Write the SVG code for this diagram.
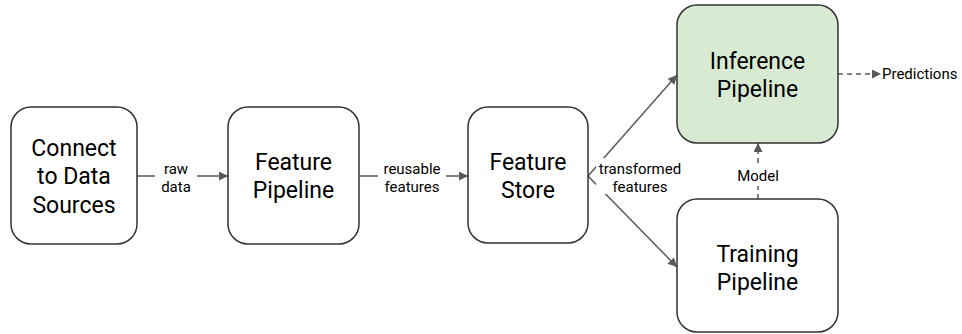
<svg xmlns="http://www.w3.org/2000/svg" width="962" height="334" viewBox="0 0 962 334">
<style>
.node rect{stroke:#333;stroke-width:1.5;fill:#fff}
.node.green rect{fill:#d9ead3}
.nt{font-family:Roboto,"Liberation Sans",sans-serif;font-size:23px;fill:#000;text-anchor:middle}
.lt{font-family:Roboto,"Liberation Sans",sans-serif;font-size:15px;fill:#000;text-anchor:middle}
.edge{stroke:#595959;stroke-width:1.5;fill:none}
.dash{stroke-dasharray:5,4}
.lbg{fill:#fff}
</style>
<defs>
<marker id="ah" viewBox="0 0 10 10" refX="10" refY="5" markerWidth="11" markerHeight="9" markerUnits="userSpaceOnUse" orient="auto">
<path d="M0,0 L10,5 L0,10 z" fill="#595959"/>
</marker>
</defs>
<rect width="962" height="334" fill="#fff"/>
<g id="connectors">
<line class="edge" x1="137" y1="176" x2="228" y2="176" marker-end="url(#ah)"/>
<line class="edge" x1="359" y1="176" x2="468" y2="176" marker-end="url(#ah)"/>
<line class="edge" x1="588" y1="176" x2="677" y2="75" marker-end="url(#ah)"/>
<line class="edge" x1="588" y1="176" x2="677" y2="267" marker-end="url(#ah)"/>
<line class="edge dash" x1="758" y1="199" x2="758" y2="143" marker-end="url(#ah)"/>
<line class="edge dash" x1="838" y1="74" x2="881" y2="74" marker-end="url(#ah)"/>
<rect class="lbg" x="155" y="158" width="42" height="36"/>
<text class="lt" x="176" y="174">raw</text>
<text class="lt" x="176" y="192">data</text>
<rect class="lbg" x="378" y="158" width="68" height="36"/>
<text class="lt" x="412" y="174">reusable</text>
<text class="lt" x="412" y="192">features</text>
<rect class="lbg" x="596" y="158" width="88" height="36"/>
<text class="lt" x="640" y="174">transformed</text>
<text class="lt" x="640" y="192">features</text>
<rect class="lbg" x="736" y="166" width="44" height="20"/>
<text class="lt" x="758" y="181">Model</text>
<text class="lt" x="882" y="79" style="text-anchor:start">Predictions</text>
</g>
<g id="n-connect" class="node">
<rect x="11" y="107" width="126" height="137" rx="20"/>
<text class="nt" x="74" y="156">Connect</text>
<text class="nt" x="74" y="184">to Data</text>
<text class="nt" x="74" y="213">Sources</text>
</g>
<g id="n-feature-pipeline" class="node">
<rect x="228" y="107" width="131" height="137" rx="20"/>
<text class="nt" x="293.5" y="170">Feature</text>
<text class="nt" x="293.5" y="198">Pipeline</text>
</g>
<g id="n-feature-store" class="node">
<rect x="468" y="107" width="120" height="136" rx="20"/>
<text class="nt" x="528" y="170">Feature</text>
<text class="nt" x="528" y="198">Store</text>
</g>
<g id="n-inference" class="node green">
<rect x="677" y="5" width="161" height="138" rx="20"/>
<text class="nt" x="757.5" y="69">Inference</text>
<text class="nt" x="757.5" y="97">Pipeline</text>
</g>
<g id="n-training" class="node">
<rect x="677" y="199" width="161" height="133" rx="20"/>
<text class="nt" x="757.5" y="262">Training</text>
<text class="nt" x="757.5" y="290">Pipeline</text>
</g>
</svg>
